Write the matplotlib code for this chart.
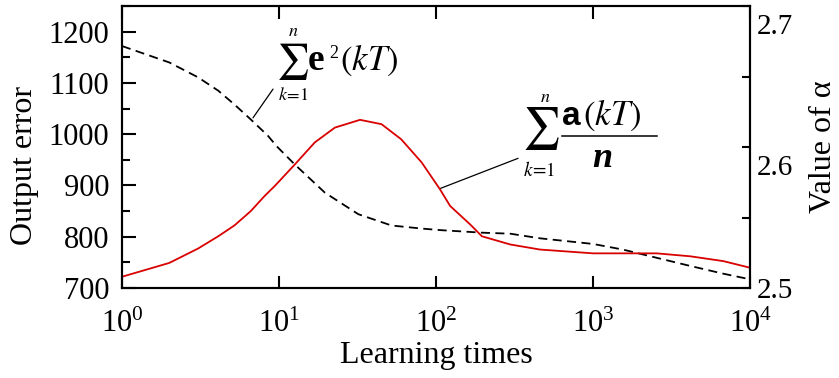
import numpy as np
import matplotlib
matplotlib.use("Agg")
import matplotlib.pyplot as plt
from matplotlib.lines import Line2D
from matplotlib.transforms import ScaledTranslation
from matplotlib.ticker import (LogLocator, LogFormatterMathtext, MultipleLocator,
                               NullLocator, FixedLocator)

plt.rcParams['font.family'] = ['Liberation Serif', 'DejaVu Serif']
plt.rcParams['mathtext.fontset'] = 'stix'

# Output error (left axis), dashed black
x_err = [1, 2, 3.05, 4.1, 5.2, 6.6, 8.5, 9.7, 12.6, 19.6, 32, 52, 81, 106,
         196, 297, 459, 1000, 1550, 2540, 4170, 6750, 10000]
err = [1172, 1140, 1111, 1085, 1058, 1029, 997, 976, 941, 886, 844, 822, 816,
       813, 808, 806, 797, 786, 775, 759, 743, 728, 717]

# Mean value of alpha (right axis), red
x_alpha = [1, 2, 3.05, 4.1, 5.2, 6.6, 8.1, 9.4, 12.6, 16.9, 22.7, 32.8, 45, 60,
           81, 106, 123, 165, 196, 297, 459, 1000, 2540, 4170, 6750, 10000]
alpha = [2.508, 2.5178, 2.528, 2.5367, 2.5444, 2.5545, 2.5653, 2.5724, 2.5876,
         2.6033, 2.6138, 2.6193, 2.6162, 2.6055, 2.5891, 2.5700, 2.5582, 2.5451,
         2.5367, 2.5309, 2.5273, 2.5246, 2.5246, 2.5225, 2.5191, 2.5144]

left_major = [700, 800, 900, 1000, 1100, 1200]
right_major = [2.5, 2.6, 2.7]

W, H = 839, 378
fig = plt.figure(figsize=(W / 100, H / 100), dpi=100)
ax = fig.add_axes([0.1454, 0.238, 0.894 - 0.1454, 0.984 - 0.238])
ax2 = ax.twinx()

ax.plot(x_err, err, color='black', lw=1.3, dashes=(5, 3))
ax2.plot(x_alpha, alpha, color='#d80000', lw=1.3)

ax.set_xscale('log')
ax.set_xlim(1, 1e4)
ax.set_ylim(700, 1250)
ax2.set_ylim(2.5, 2.7)

ax.xaxis.set_major_locator(LogLocator(base=10, numticks=10))
ax.xaxis.set_major_formatter(LogFormatterMathtext())
ax.xaxis.set_minor_locator(NullLocator())
ax.yaxis.set_major_locator(FixedLocator(left_major))
ax.yaxis.set_minor_locator(MultipleLocator(50))
ax2.yaxis.set_major_locator(FixedLocator(right_major))
ax2.yaxis.set_minor_locator(MultipleLocator(0.05))

ax.tick_params(axis='x', which='major', direction='in', top=True, length=9,
               width=1.5, labelsize=22, pad=16)
ax.tick_params(axis='y', which='major', direction='in', length=10, width=1.5,
               labelsize=22, pad=9)
ax.tick_params(axis='y', which='minor', direction='in', length=6, width=1.5)
ax2.tick_params(axis='y', which='major', direction='in', length=6, width=1.5,
                labelsize=21, pad=5)
ax2.tick_params(axis='y', which='minor', direction='in', length=6, width=1.5)

# right-hand labels sit slightly below their ticks, the bottom one stays level
fig.canvas.draw()
for lab, val in zip(ax2.get_yticklabels(), right_major):
    if val > right_major[0]:
        lab.set_transform(lab.get_transform() +
                          ScaledTranslation(0, -18 / 100, fig.dpi_scale_trans))

for a in (ax, ax2):
    for s in a.spines.values():
        s.set_linewidth(1.5)

ax.set_xlabel('Learning times', fontsize=23, labelpad=1)
ax.set_ylabel('Output error', fontsize=23)
ax.yaxis.set_label_coords(-0.132, 0.433)
ax2.set_ylabel('Value of α', fontsize=23, labelpad=11)


def fpt(x, y):
    """Figure fraction from pixel position measured from the top-left."""
    return x / W, 1 - y / H


def put(x, y, s, **kw):
    fig.text(*fpt(x, y), s, **kw)


# Leader lines to the two curves
ax.annotate('', xy=(6.83, 1032), xytext=(9.16, 1088),
            arrowprops=dict(arrowstyle='-', lw=0.9, color='black',
                            shrinkA=0, shrinkB=0))
ax.annotate('', xy=(106, 894), xytext=(333, 953),
            arrowprops=dict(arrowstyle='-', lw=0.9, color='black',
                            shrinkA=0, shrinkB=0))

# Sum of squared errors
put(292, 61, r'$\sum$', fontsize=26, ha='center', va='center')
put(293, 32, r'$n$', fontsize=13, ha='center', va='center')
put(293, 95, r'$k\!=\!1$', fontsize=13, ha='center', va='center')
put(308, 70, 'e', family='Liberation Serif', weight='bold', fontsize=27,
    ha='left', va='baseline')
put(329, 58, '2', fontsize=13, ha='left', va='baseline')
put(340, 70, r'$(kT)$', fontsize=25, ha='left', va='baseline')

# Mean of alpha
put(540.5, 129, r'$\sum$', fontsize=30, ha='center', va='center')
put(545, 98, r'$n$', fontsize=13, ha='center', va='center')
put(539, 171, r'$k\!=\!1$', fontsize=14, ha='center', va='center')
put(562, 125, 'a', family='Liberation Sans', weight='bold', fontsize=24,
    ha='left', va='baseline')
put(583, 125, r'$(kT)$', fontsize=25, ha='left', va='baseline')
fig.add_artist(Line2D([562 / W, 657 / W], [1 - 136 / H] * 2,
                      transform=fig.transFigure, color='black', lw=1.1))
put(602, 167, 'n', family='Liberation Serif', weight='bold', style='italic',
    fontsize=26, ha='center', va='baseline')

fig.savefig('out.png', dpi=100)
